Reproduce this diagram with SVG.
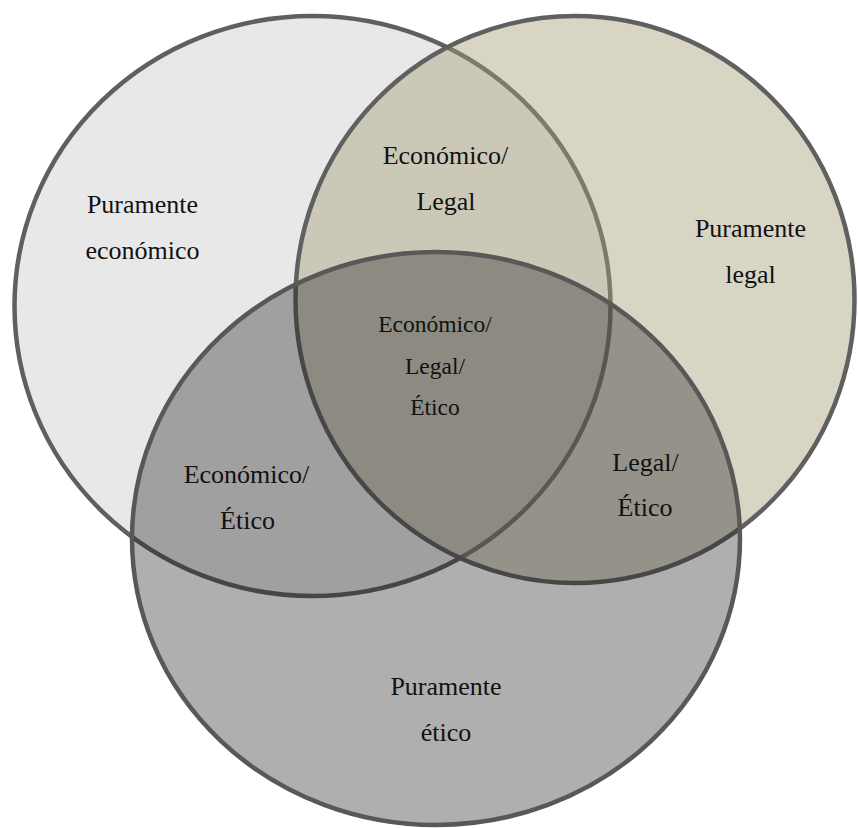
<svg xmlns="http://www.w3.org/2000/svg" width="858" height="828" viewBox="0 0 858 828">
<style>
.c{stroke-width:4.5}
.t text{font-family:'Liberation Serif','Times New Roman',serif;font-size:26px;fill:#111111;text-anchor:middle}
.t text.s{font-size:23.5px}
</style>
<rect width="858" height="828" fill="#ffffff"/>
<g id="economico">
<ellipse class="c" cx="312.5" cy="306" rx="298" ry="290" fill="#e8e8e8" stroke="#5f5f5f"/>
</g>
<g id="legal">
<ellipse class="c" cx="575" cy="299.5" rx="279.5" ry="283.5" fill="#a59e7a" fill-opacity="0.435" stroke="#606060"/>
</g>
<g id="etico">
<ellipse class="c" cx="436" cy="538.5" rx="304" ry="286.5" fill="#191919" fill-opacity="0.348" stroke="#585858"/>
</g>
<g id="connectors"></g>
<g class="t" font-family="Liberation Serif, serif">
<g id="label-economico">
<text x="142.5" y="212.5">Puramente</text>
<text x="142.5" y="258.5">económico</text>
</g>
<g id="label-economico-legal">
<text x="445.5" y="164">Económico/</text>
<text x="446" y="210">Legal</text>
</g>
<g id="label-legal">
<text x="750.5" y="237">Puramente</text>
<text x="750.5" y="283">legal</text>
</g>
<g id="label-central">
<text class="s" x="435" y="332">Económico/</text>
<text class="s" x="435" y="374">Legal/</text>
<text class="s" x="435" y="414.5">Ético</text>
</g>
<g id="label-economico-etico">
<text x="246.5" y="482.5">Económico/</text>
<text x="247.5" y="528.5">Ético</text>
</g>
<g id="label-legal-etico">
<text x="645.5" y="470.5">Legal/</text>
<text x="645" y="516">Ético</text>
</g>
<g id="label-etico">
<text x="446" y="694.5">Puramente</text>
<text x="446" y="740.5">ético</text>
</g>
</g>
</svg>
